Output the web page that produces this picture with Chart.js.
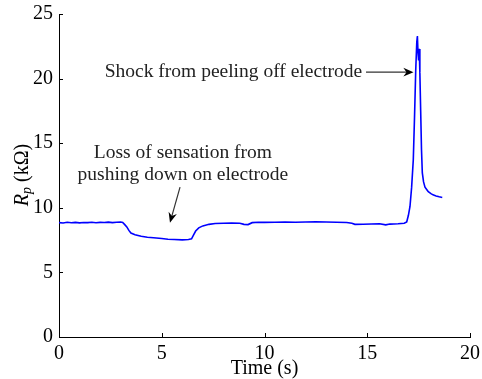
<!DOCTYPE html>
<html>
<head>
<meta charset="utf-8">
<script src="https://cdn.jsdelivr.net/npm/chart.js@4.4.1/dist/chart.umd.min.js"></script>
<style>
  html, body { margin: 0; padding: 0; background: #fff; }
  #wrap { width: 482px; height: 379px; }
</style>
</head>
<body>
<div id="wrap"><canvas id="chart" width="482" height="379"></canvas></div>
<script>
// time (s) and resistance (kOhm)
const timeS = [
  0, 0.2, 0.4, 0.6, 0.8, 1.0, 1.2, 1.4, 1.6, 1.8, 2.0, 2.2, 2.4, 2.6, 2.8, 3.0, 3.1,
  3.2, 3.3, 3.4, 3.5, 3.7, 4.0, 4.3, 4.6, 5.0, 5.3, 5.6, 6.0, 6.3, 6.45, 6.55, 6.65,
  6.8, 7.0, 7.3, 7.6, 8.0, 8.4, 8.8, 9.0, 9.2, 9.4, 9.7, 10.0, 10.5, 11.0, 11.5,
  12.0, 12.5, 13.0, 13.5, 14.0, 14.25, 14.4, 14.8, 15.2, 15.6, 15.9, 16.1, 16.5,
  16.8, 16.92, 17.0, 17.08, 17.16, 17.24, 17.3, 17.36, 17.41, 17.44, 17.47, 17.49,
  17.51, 17.53, 17.56, 17.6, 17.64, 17.68, 17.74, 17.81, 17.9, 17.97, 18.1, 18.2,
  18.35, 18.5, 18.65
];
const resistance = [
  8.85, 8.82, 8.88, 8.84, 8.87, 8.83, 8.86, 8.85, 8.88, 8.84, 8.87, 8.86, 8.89, 8.85, 8.88, 8.9, 8.87,
  8.7, 8.52, 8.25, 8.05, 7.92, 7.8, 7.72, 7.68, 7.62, 7.56, 7.55, 7.52, 7.55, 7.6, 7.9, 8.2,
  8.45, 8.6, 8.72, 8.78, 8.8, 8.82, 8.8, 8.72, 8.7, 8.85, 8.88, 8.87, 8.88, 8.9, 8.88,
  8.9, 8.92, 8.9, 8.88, 8.86, 8.8, 8.72, 8.73, 8.75, 8.76, 8.68, 8.74, 8.76,
  8.8, 8.9, 9.4, 10.1, 11.6, 13.7, 17.0, 20.7, 22.8, 23.3, 22.0, 21.4,
  22.0, 22.3, 20.5, 17.5, 14.5, 12.7, 12.0, 11.6, 11.4, 11.25, 11.1, 11.0,
  10.92, 10.85, 10.8
];
const xTicks = [0, 5, 10, 15, 20];
const yTicks = [0, 5, 10, 15, 20, 25];

const FONT = '"Liberation Serif", "DejaVu Serif", serif';

// annotations in data coordinates
const notes = [
  { lines: ['Shock from peeling off electrode'], x: 14.75, y: 20.5, align: 'right',
    arrow: { from: [14.94, 20.5], to: [17.25, 20.5] } },
  { lines: ['Loss of sensation from', 'pushing down on electrode'], x: 6.03, y: 14.24, align: 'center',
    arrow: { from: [5.89, 11.6], to: [5.4, 8.85] } }
];

const matlabAxes = {
  id: 'matlabAxes',
  afterDraw(chart) {
    const { ctx, chartArea: a, scales: { x, y } } = chart;
    ctx.save();
    // inward ticks
    ctx.strokeStyle = '#000';
    ctx.lineWidth = 1;
    ctx.beginPath();
    xTicks.forEach(v => {
      const px = Math.round(x.getPixelForValue(v)) + 0.5;
      ctx.moveTo(px, a.bottom); ctx.lineTo(px, a.bottom - 4);
    });
    yTicks.forEach(v => {
      const py = Math.round(y.getPixelForValue(v)) + 0.5;
      ctx.moveTo(a.left, py); ctx.lineTo(a.left + 4, py);
    });
    ctx.stroke();

    // annotations
    ctx.font = '19.5px ' + FONT;
    ctx.textBaseline = 'middle';
    notes.forEach(n => {
      ctx.fillStyle = '#222';
      ctx.textAlign = n.align;
      n.lines.forEach((s, i) => {
        ctx.fillText(s, x.getPixelForValue(n.x), y.getPixelForValue(n.y) + i * 22);
      });
      const x0 = x.getPixelForValue(n.arrow.from[0]), y0 = y.getPixelForValue(n.arrow.from[1]);
      const x1 = x.getPixelForValue(n.arrow.to[0]), y1 = y.getPixelForValue(n.arrow.to[1]);
      const ang = Math.atan2(y1 - y0, x1 - x0);
      ctx.strokeStyle = '#333';
      ctx.lineWidth = 1.2;
      ctx.beginPath();
      ctx.moveTo(x0, y0);
      ctx.lineTo(x1 - 5 * Math.cos(ang), y1 - 5 * Math.sin(ang));
      ctx.stroke();
      ctx.fillStyle = '#000';
      ctx.beginPath();
      ctx.moveTo(x1, y1);
      ctx.lineTo(x1 - 11 * Math.cos(ang - 0.4), y1 - 11 * Math.sin(ang - 0.4));
      ctx.lineTo(x1 - 7 * Math.cos(ang), y1 - 7 * Math.sin(ang));
      ctx.lineTo(x1 - 11 * Math.cos(ang + 0.4), y1 - 11 * Math.sin(ang + 0.4));
      ctx.closePath();
      ctx.fill();
    });

    // y axis title: R_p (kΩ)
    ctx.translate(21, 175);
    ctx.rotate(-Math.PI / 2);
    ctx.fillStyle = '#000';
    ctx.textBaseline = 'alphabetic';
    ctx.textAlign = 'left';
    const parts = [
      { t: 'R', f: 'italic 20px ' + FONT, dy: 0 },
      { t: 'p', f: 'italic 14px ' + FONT, dy: 3 },
      { t: ' (kΩ)', f: '20px ' + FONT, dy: 0 }
    ];
    let total = 0;
    parts.forEach(p => { ctx.font = p.f; total += ctx.measureText(p.t).width; });
    let cx = -total / 2;
    parts.forEach(p => {
      ctx.font = p.f;
      ctx.fillText(p.t, cx, 7 + p.dy);
      cx += ctx.measureText(p.t).width;
    });
    ctx.restore();
  }
};

new Chart(document.getElementById('chart'), {
  type: 'scatter',
  data: {
    datasets: [{
      data: timeS.map((t, i) => ({ x: t, y: resistance[i] })),
      showLine: true,
      borderColor: '#0000ff',
      borderWidth: 1.6,
      pointRadius: 0,
      tension: 0
    }]
  },
  options: {
    responsive: false,
    animation: false,
    layout: { padding: { top: 14, right: 12, left: 0, bottom: 0 } },
    plugins: { legend: { display: false }, tooltip: { enabled: false } },
    scales: {
      x: {
        type: 'linear', min: 0, max: 20,
        grid: { display: false },
        border: { display: true, color: '#000', width: 1 },
        afterBuildTicks: s => { s.ticks = xTicks.map(v => ({ value: v })); },
        ticks: { color: '#000', font: { family: FONT, size: 20 }, padding: -3, maxRotation: 0 },
        title: { display: true, text: 'Time (s)', color: '#000', font: { family: FONT, size: 20 }, padding: { top: 0, bottom: -2 } },
        afterFit: s => { s.height = 42; }
      },
      y: {
        min: 0, max: 25,
        grid: { display: false },
        border: { display: true, color: '#000', width: 1 },
        afterBuildTicks: s => { s.ticks = yTicks.map(v => ({ value: v })); },
        ticks: { color: '#000', font: { family: FONT, size: 20 }, padding: -2 },
        afterFit: s => { s.width = 59; }
      }
    }
  },
  plugins: [matlabAxes]
});
</script>
</body>
</html>
